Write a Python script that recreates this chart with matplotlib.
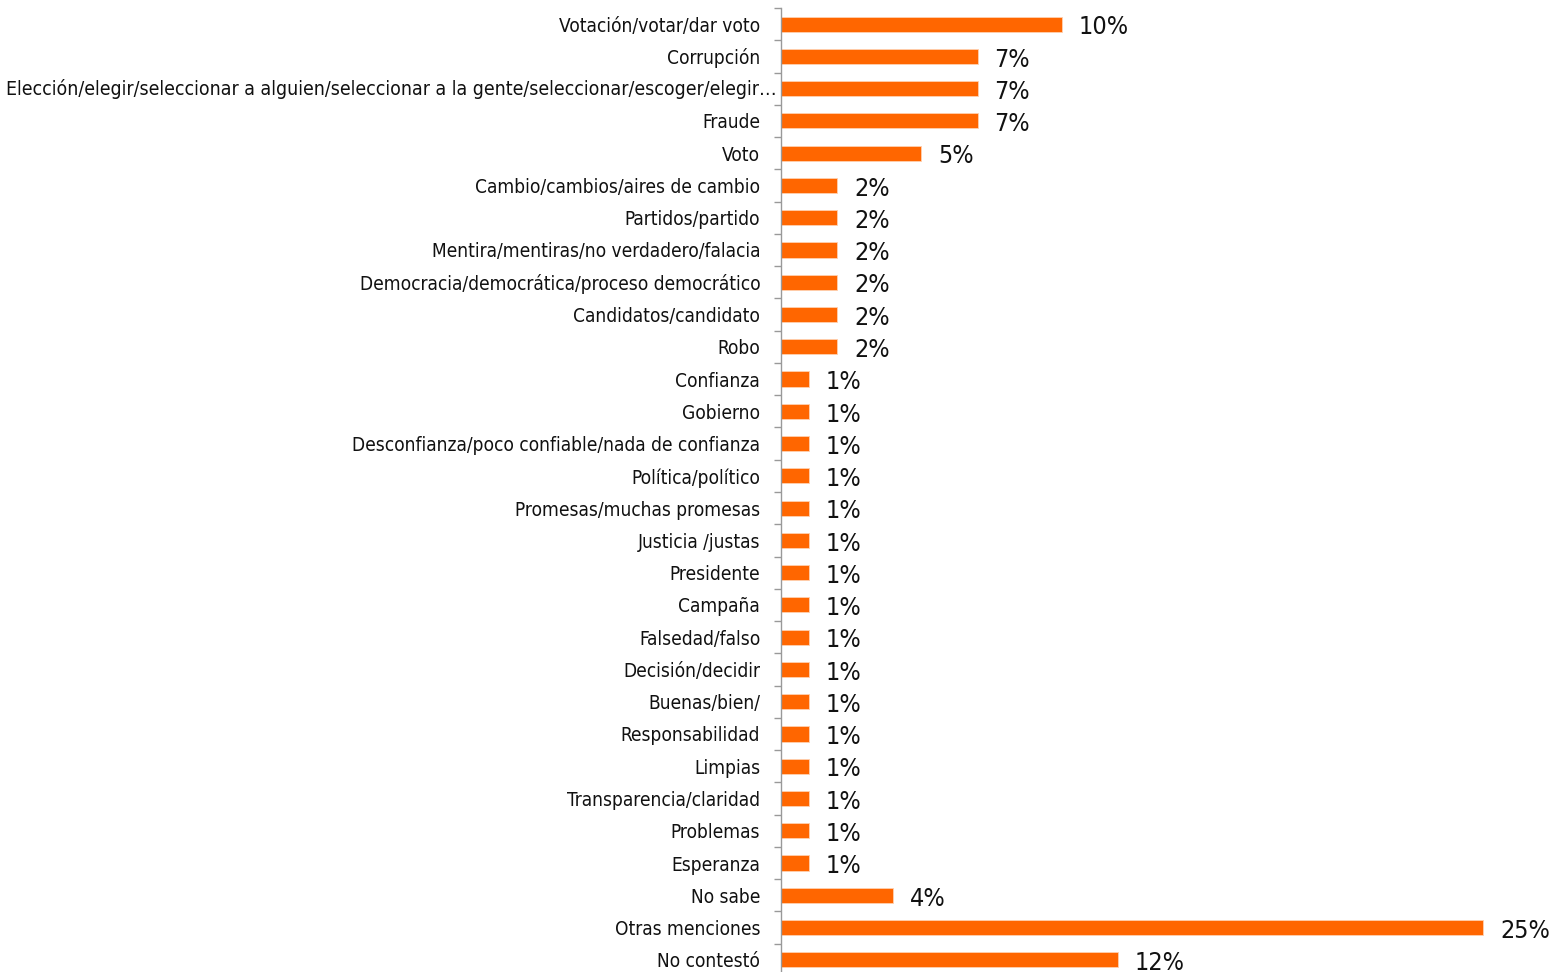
import matplotlib
matplotlib.use('Agg')
import matplotlib.pyplot as plt
import matplotlib.transforms as mtransforms
import numpy as np

categorias = [
    'Votación/votar/dar voto',
    'Corrupción',
    'Elección/elegir/seleccionar a alguien/seleccionar a la gente/seleccionar/escoger/elegir…',
    'Fraude',
    'Voto',
    'Cambio/cambios/aires de cambio',
    'Partidos/partido',
    'Mentira/mentiras/no verdadero/falacia',
    'Democracia/democrática/proceso democrático',
    'Candidatos/candidato',
    'Robo',
    'Confianza',
    'Gobierno',
    'Desconfianza/poco confiable/nada de confianza',
    'Política/político',
    'Promesas/muchas promesas',
    'Justicia /justas',
    'Presidente',
    'Campaña',
    'Falsedad/falso',
    'Decisión/decidir',
    'Buenas/bien/',
    'Responsabilidad',
    'Limpias',
    'Transparencia/claridad',
    'Problemas',
    'Esperanza',
    'No sabe',
    'Otras menciones',
    'No contestó',
]
valores = [10, 7, 7, 7, 5, 2, 2, 2, 2, 2, 2, 1, 1, 1, 1, 1, 1, 1, 1, 1, 1, 1, 1, 1, 1, 1, 1, 4, 25, 12]
largo = 2  # etiqueta larga que llega hasta el eje

plt.rcParams['font.family'] = ['DejaVu Sans']
plt.rcParams['font.stretch'] = 'condensed'

fig = plt.figure(figsize=(15.52, 9.72), dpi=100)
ax = fig.add_axes([0.5032, -0.0041, 0.4968, 0.9959])

y = np.arange(len(categorias))
ax.barh(y, valores, height=0.47, color='#FF6600', edgecolor='#FFD0B0', linewidth=0.6)
for yi, v in zip(y, valores):
    ax.text(v + 0.6, yi + 0.1, f'{v}%', va='center', ha='left', fontsize=18, color='#111111')

ax.set_ylim(len(categorias) - 0.5, -0.5)
ax.set_xlim(0, 27.45)

etiquetas = list(categorias)
etiquetas[largo] = ''
ax.set_yticks(np.arange(len(categorias) + 1) - 0.5)
ax.set_yticklabels([])
ax.set_yticks(y, minor=True)
ax.set_yticklabels(etiquetas, minor=True, fontsize=13.7, color='#111111')
ax.tick_params(axis='y', which='major', length=5, color='#999999', width=1)
ax.tick_params(axis='y', which='minor', length=0, pad=15)
ax.set_xticks([])

# etiqueta larga: termina junto al eje y empieza cerca del borde izquierdo
trans = mtransforms.blended_transform_factory(ax.transAxes, ax.transData)
trans = trans + mtransforms.ScaledTranslation(-3 / 72, 0, fig.dpi_scale_trans)
t = ax.text(0, largo, categorias[largo], transform=trans, ha='right', va='center',
            fontsize=13.7, color='#111111')
fig.canvas.draw()
bb = t.get_window_extent()
t.set_fontsize(13.7 * (bb.x1 - 10) / bb.width)

for s in ['top', 'right', 'bottom']:
    ax.spines[s].set_visible(False)
ax.spines['left'].set_color('#999999')
ax.spines['left'].set_linewidth(1)

fig.savefig('out.png', dpi=100)
